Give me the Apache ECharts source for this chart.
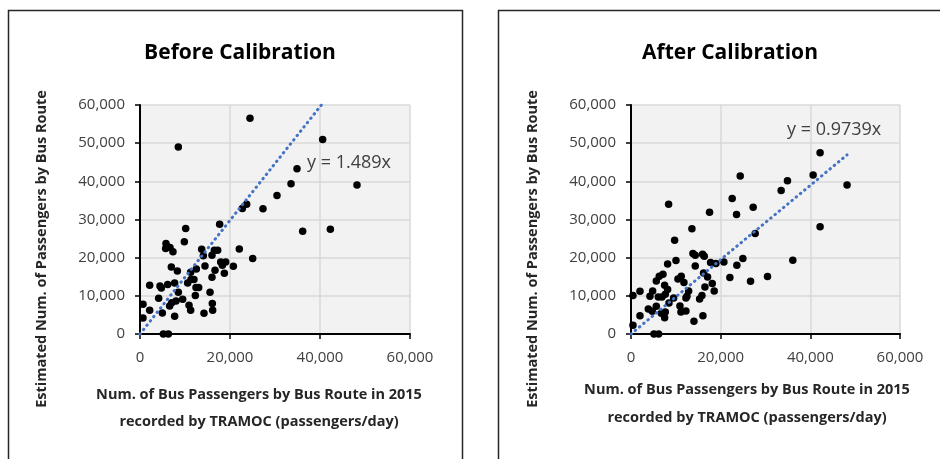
<!DOCTYPE html>
<html>
<head>
<meta charset="utf-8">
<script src="https://cdn.jsdelivr.net/npm/echarts@6/dist/echarts.min.js"></script>
<style>
  html, body { margin: 0; padding: 0; background: #fff; }
  #chart { width: 940px; height: 459px; }
</style>
</head>
<body>
<div id="chart"></div>
<script>
// observed (TRAMOC 2015) vs estimated passengers per route
var beforeX = [24444, 8519, 40590, 34890, 33560, 48220, 30440, 23700, 22740, 27330,
  17700, 36150, 42300, 10150, 9850, 5780, 5700, 6670, 7330, 13700,
  14070, 16000, 16520, 17260, 22070, 25040, 17930, 18300, 19040, 20740,
  14440, 16670, 18740, 16000, 15560, 12440, 13040, 12300, 12520, 11260,
  11330, 11990, 10590, 8300, 6960, 7700, 6150, 8520, 9480, 8000,
  7040, 6590, 4740, 4440, 2150, 4150, 4960, 7700, 10890, 11260,
  14220, 16070, 16150, 2150, 670, 670, 5190, 6300];
var beforeY = [56500, 48980, 50990, 43290, 39360, 39010, 36300, 34020, 32890, 32800,
  28770, 26940, 27460, 27640, 24140, 23700, 22390, 22650, 21520, 22220,
  20470, 20640, 21950, 21950, 22300, 19770, 18890, 18020, 18890, 17750,
  17840, 16700, 15920, 14870, 10930, 12160, 12160, 10060, 17050, 16180,
  14260, 14260, 13380, 16530, 17580, 13380, 12940, 10930, 9100, 8660,
  8220, 7350, 12070, 12590, 12770, 9360, 5510, 4640, 7520, 6210,
  5420, 7960, 6210, 6210, 7780, 4200, 0, 0];

var afterX = [24360, 8390, 42180, 40620, 34900, 33490, 48190, 22570, 23540, 27250,
  17520, 27700, 42180, 13590, 9730, 30450, 36090, 24950, 26660, 22050,
  20720, 18940, 17750, 23610, 13810, 14330, 15970, 16340, 14330, 10030,
  8170, 16190, 17080, 16490, 18120, 18560, 15820, 15300, 11810, 11210,
  10470, 12850, 12480, 12250, 10920, 11140, 12250, 14040, 16040, 7130,
  6310, 5640, 7500, 8170, 7650, 6910, 6090, 4830, 4230, 2000,
  440, 8470, 9510, 3860, 4750, 5640, 6760, 7650, 7500, 2000,
  440, 5120, 6160];
var afterY = [41370, 34020, 47490, 41630, 40140, 37610, 39010, 35510, 31310, 33230,
  31920, 26330, 28080, 27550, 24580, 15040, 19330, 19770, 13820, 14780,
  18890, 18450, 18720, 18020, 21080, 20640, 20900, 20380, 17840, 19240,
  18370, 16000, 14960, 12330, 13210, 11280, 10060, 9180, 13470, 15130,
  14430, 11280, 9880, 9450, 7350, 5770, 6030, 3320, 4810, 15660,
  15130, 13910, 12770, 11630, 10410, 9710, 9710, 11280, 9880, 11190,
  10060, 8130, 9450, 6560, 5950, 7260, 5420, 5770, 4290, 4810,
  2270, 0, 0];

var slopeBefore = 1.489;
var slopeAfter = 0.9739;
var xTicks = [0, 20000, 40000, 60000];
var yTicks = [0, 10000, 20000, 30000, 40000, 50000, 60000];

function pairs(xs, ys) {
  return xs.map(function (x, i) { return [x, ys[i]]; });
}
function trend(xs, k, yMax) {
  var xEnd = Math.min(Math.max.apply(null, xs), yMax / k);
  return [[0, 0], [xEnd, k * xEnd]];
}
function fmt(v) { return echarts.format.addCommas(v); }

var font = '"Open Sans", "Noto Sans", sans-serif';
var tickColor = '#404040';

function xAxisFor(idx) {
  return {
    gridIndex: idx, type: 'value',
    min: xTicks[0], max: xTicks[xTicks.length - 1], interval: 20000,
    axisLine: { show: true, onZero: false, lineStyle: { color: '#000', width: 2 } },
    axisTick: { show: true, length: 5, lineStyle: { color: '#000', width: 1.5 } },
    axisLabel: { formatter: fmt, color: tickColor, fontFamily: font, fontSize: 15, margin: 16 },
    splitLine: { show: true, lineStyle: { color: '#d9d9d9', width: 1.5 } }
  };
}
function yAxisFor(idx) {
  return {
    gridIndex: idx, type: 'value',
    min: yTicks[0], max: yTicks[yTicks.length - 1], interval: 10000,
    axisLine: { show: true, onZero: false, lineStyle: { color: '#000', width: 2 } },
    axisTick: { show: true, length: 5, lineStyle: { color: '#000', width: 1.5 } },
    axisLabel: { formatter: fmt, color: tickColor, fontFamily: font, fontSize: 15, margin: 15 },
    splitLine: { show: true, lineStyle: { color: '#d9d9d9', width: 1.5 } }
  };
}

var chart = echarts.init(document.getElementById('chart'));
var nameStyle = { fill: '#262626', font: 'bold 14.5px ' + font, textAlign: 'center', textVerticalAlign: 'middle' };

var option = {
  animation: false,
  backgroundColor: '#fff',
  title: [
    { text: 'Before Calibration', left: 235, top: 38, textAlign: 'center',
      textStyle: { fontFamily: font, fontSize: 21, fontWeight: 'bold', color: '#000' } },
    { text: 'After Calibration', left: 725, top: 38, textAlign: 'center',
      textStyle: { fontFamily: font, fontSize: 21, fontWeight: 'bold', color: '#000' } }
  ],
  grid: [
    { left: 140, top: 105, width: 270, height: 229, show: true, backgroundColor: '#f2f2f2', borderWidth: 0 },
    { left: 631, top: 105, width: 269, height: 229, show: true, backgroundColor: '#f2f2f2', borderWidth: 0 }
  ],
  xAxis: [xAxisFor(0), xAxisFor(1)],
  yAxis: [yAxisFor(0), yAxisFor(1)],
  graphic: [
    { type: 'rect', shape: { x: 8.5, y: 10.5, width: 454, height: 470 }, style: { fill: null, stroke: '#262626', lineWidth: 1.5 } },
    { type: 'rect', shape: { x: 498.5, y: 10.5, width: 470, height: 470 }, style: { fill: null, stroke: '#262626', lineWidth: 1.5 } },
    { type: 'text', x: 42, y: 249, rotation: Math.PI / 2, style: Object.assign({ text: 'Estimated Num. of Passengers by Bus Route' }, nameStyle) },
    { type: 'text', x: 533, y: 249, rotation: Math.PI / 2, style: Object.assign({ text: 'Estimated Num. of Passengers by Bus Route' }, nameStyle) },
    { type: 'text', x: 259, y: 395, style: Object.assign({ text: 'Num. of Bus Passengers by Bus Route in 2015' }, nameStyle) },
    { type: 'text', x: 259, y: 422, style: Object.assign({ text: 'recorded by TRAMOC (passengers/day)' }, nameStyle) },
    { type: 'text', x: 747, y: 390, style: Object.assign({ text: 'Num. of Bus Passengers by Bus Route in 2015' }, nameStyle) },
    { type: 'text', x: 747, y: 418, style: Object.assign({ text: 'recorded by TRAMOC (passengers/day)' }, nameStyle) },
    { type: 'text', x: 307, y: 163, style: { text: 'y = ' + slopeBefore + 'x', fill: '#404040', font: '18px ' + font, textVerticalAlign: 'middle' } },
    { type: 'text', x: 787, y: 130, style: { text: 'y = ' + slopeAfter + 'x', fill: '#404040', font: '18px ' + font, textVerticalAlign: 'middle' } }
  ],
  series: [
    { type: 'scatter', xAxisIndex: 0, yAxisIndex: 0, data: pairs(beforeX, beforeY),
      symbolSize: 7.5, itemStyle: { color: '#000', opacity: 1 }, z: 3 },
    { type: 'line', xAxisIndex: 0, yAxisIndex: 0, data: trend(beforeX, slopeBefore, 60000),
      showSymbol: false, lineStyle: { color: '#4472c4', width: 3, type: [0.5, 5], cap: 'round' }, z: 4 },
    { type: 'scatter', xAxisIndex: 1, yAxisIndex: 1, data: pairs(afterX, afterY),
      symbolSize: 7.5, itemStyle: { color: '#000', opacity: 1 }, z: 3 },
    { type: 'line', xAxisIndex: 1, yAxisIndex: 1, data: trend(afterX, slopeAfter, 60000),
      showSymbol: false, lineStyle: { color: '#4472c4', width: 3, type: [0.5, 5], cap: 'round' }, z: 4 }
  ]
};
chart.setOption(option);
</script>
</body>
</html>
